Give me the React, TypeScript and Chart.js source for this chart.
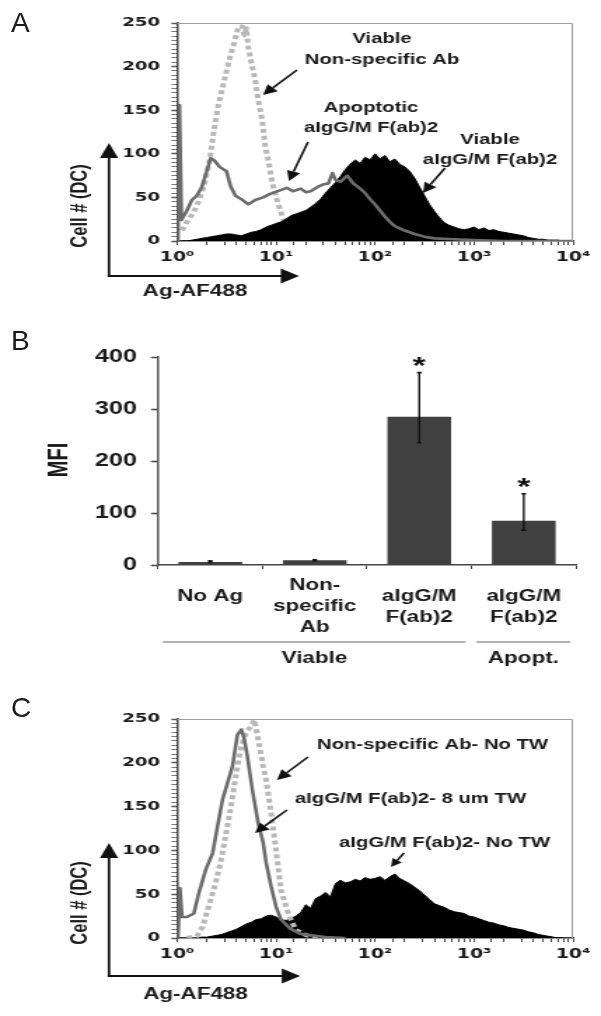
import React, { useEffect, useRef } from "react";
import { Chart, registerables } from "chart.js";

Chart.register(...registerables);

// ---------- layout constants (canvas is drawn narrow and shown stretched, like the reference) ----------
const SANS = '"Liberation Sans", Arial, Helvetica, sans-serif';
const WIDE = '"DejaVu Sans", "Liberation Sans", sans-serif';
const INK = "#1a1a1a";
const LOGICAL_W = 429;
const PAGE_W = 601;
const SX = PAGE_W / LOGICAL_W;
const px = (pageX: number) => pageX / SX;

// ---------- shared axis labels ----------
const decadeTickLabels = ["10⁰", "10¹", "10²", "10³", "10⁴"];
const histYLabelled = [0, 50, 100, 150, 200, 250];

// ---------- Panel A data (x in decades of Ag-AF488, y = cell count) ----------
const aViableDecades = [
  0.05, 0.1, 0.15, 0.2, 0.25, 0.3, 0.35, 0.4, 0.45, 0.5,
  0.55, 0.6, 0.65, 0.7, 0.75, 0.8, 0.85, 0.9, 0.95, 1.0,
  1.05, 1.1, 1.15, 1.2, 1.25, 1.3, 1.35, 1.4, 1.45, 1.5,
  1.55, 1.6, 1.65, 1.7, 1.75, 1.8, 1.85, 1.9, 1.95, 2.0,
  2.05, 2.1, 2.15, 2.2, 2.25, 2.3, 2.35, 2.4, 2.45, 2.5,
  2.55, 2.6, 2.65, 2.7, 2.75, 2.8, 2.85, 2.9, 2.95, 3.0,
  3.05, 3.1, 3.15, 3.2, 3.25, 3.3, 3.35, 3.4, 3.45, 3.5,
  3.55, 3.6, 3.65, 3.7, 3.75, 3.8, 3.85, 3.9, 3.95, 4.0,
];
const aViableCounts = [
  0, 0, 1, 2, 3, 4, 5, 6, 7, 8,
  8, 7, 6, 8, 10, 11, 13, 16, 18, 20,
  22, 25, 29, 31, 33, 35, 39, 43, 48, 55,
  61, 67, 74, 82, 88, 93, 89, 96, 93, 100,
  94, 98, 91, 94, 88, 85, 80, 72, 62, 52,
  42, 34, 27, 21, 18, 16, 14, 13, 14, 16,
  13, 15, 12, 13, 11, 10, 9, 8, 7, 6,
  4, 3, 2, 2, 1, 1, 1, 0, 0, 0,
];
const aApoptDecades = [
  0.01, 0.025, 0.045, 0.1, 0.15, 0.2, 0.25, 0.3, 0.34, 0.38, 0.43, 0.5, 0.54, 0.59, 0.65, 0.72, 0.79,
  0.87, 0.94, 1.04, 1.11, 1.17, 1.25, 1.3, 1.35, 1.42, 1.48, 1.53, 1.57, 1.6, 1.65, 1.72, 1.78, 1.85,
  1.9, 1.95, 2.0, 2.05, 2.1, 2.15, 2.2, 2.3, 2.4, 2.5, 2.6, 2.8, 3.0, 3.3, 4.0,
];
const aApoptCounts = [
  0, 156, 24, 35, 47, 52, 62, 80, 95, 92, 85, 80, 63, 52, 48, 42, 47,
  50, 54, 58, 61, 57, 60, 56, 57, 62, 65, 66, 78, 70, 68, 75, 66, 60,
  55, 48, 42, 35, 28, 22, 17, 12, 8, 5, 3, 2, 1, 0, 0,
];
const aNonSpecDecades = [
  0.05, 0.1, 0.15, 0.2, 0.27, 0.33, 0.37, 0.41, 0.47, 0.54, 0.58, 0.62, 0.66, 0.68, 0.7,
  0.72, 0.75, 0.79, 0.82, 0.86, 0.89, 0.93, 0.96, 1.01, 1.07, 1.12, 1.18, 1.25, 1.35,
];
const aNonSpecCounts = [
  12, 22, 30, 40, 62, 93, 125, 152, 181, 213, 228, 246, 246, 236, 244,
  222, 205, 185, 162, 139, 110, 88, 68, 47, 26, 15, 8, 3, 0,
];

// ---------- Panel B data ----------
const bCategories = [["No Ag", ""], ["Non-", "specific", "Ab"], ["aIgG/M", "F(ab)2"], ["aIgG/M", "F(ab)2"]];
const bMFI = [6, 9, 285, 85];
const bErrLow = [5, 8, 235, 67];
const bErrHigh = [8, 10, 370, 137];
const bSignif = ["", "", "*", "*"];
const bGroupLabels = ["Viable", "Apopt."];
const bGroupFirst = [0, 3];
const bGroupLast = [2, 3];
const bYTicks = [0, 100, 200, 300, 400];

// ---------- Panel C data ----------
const cNoTwDecades = [
  0.2, 0.25, 0.3, 0.35, 0.4, 0.45, 0.5, 0.55, 0.6, 0.65,
  0.7, 0.75, 0.8, 0.85, 0.9, 0.95, 1.0, 1.05, 1.1, 1.15,
  1.2, 1.25, 1.3, 1.35, 1.4, 1.45, 1.5, 1.55, 1.6, 1.65,
  1.7, 1.75, 1.8, 1.85, 1.9, 1.95, 2.0, 2.05, 2.1, 2.15,
  2.2, 2.25, 2.3, 2.35, 2.4, 2.45, 2.5, 2.55, 2.6, 2.65,
  2.7, 2.75, 2.8, 2.85, 2.9, 2.95, 3.0, 3.05, 3.1, 3.15,
  3.2, 3.25, 3.3, 3.35, 3.4, 3.45, 3.5, 3.55, 3.6, 3.65,
  3.7, 3.75, 3.8, 3.85, 3.9,
];
const cNoTwCounts = [
  0, 1, 1, 2, 3, 4, 6, 8, 10, 13,
  16, 18, 21, 22, 25, 26, 24, 21, 20, 22,
  25, 29, 38, 34, 45, 48, 52, 47, 62, 66,
  63, 64, 67, 65, 69, 67, 68, 70, 66, 70,
  73, 68, 65, 62, 58, 54, 49, 44, 39, 37,
  35, 32, 30, 29, 28, 25, 24, 22, 20, 18,
  17, 15, 14, 12, 11, 10, 9, 7, 6, 4,
  3, 2, 1, 0, 0,
];
const cTw8Decades = [
  0.01, 0.03, 0.05, 0.1, 0.17, 0.22, 0.29, 0.36, 0.41, 0.46, 0.51, 0.56, 0.61, 0.65,
  0.68, 0.71, 0.76, 0.82, 0.87, 0.9, 0.95, 1.0, 1.05, 1.14, 1.24, 1.35, 1.5, 1.7,
];
const cTw8Counts = [
  0, 57, 24, 24, 28, 51, 78, 97, 128, 158, 177, 196, 232, 238,
  227, 208, 170, 131, 109, 86, 59, 36, 21, 11, 5, 3, 1, 0,
];
const cNonSpecDecades = [
  0.1, 0.2, 0.26, 0.32, 0.39, 0.44, 0.49, 0.54, 0.6, 0.65, 0.7, 0.75,
  0.78, 0.82, 0.87, 0.9, 0.95, 1.0, 1.05, 1.1, 1.15, 1.2, 1.31, 1.45,
];
const cNonSpecCounts = [
  0, 2, 13, 36, 63, 86, 116, 147, 189, 219, 235, 242,
  249, 227, 196, 181, 143, 101, 55, 36, 21, 9, 3, 0,
];

// ---------- drawing helpers ----------
function tri(ctx: CanvasRenderingContext2D, p: number[][]) {
  ctx.beginPath();
  ctx.moveTo(p[0][0], p[0][1]);
  ctx.lineTo(p[1][0], p[1][1]);
  ctx.lineTo(p[2][0], p[2][1]);
  ctx.closePath();
  ctx.fill();
}

function arrow(ctx: CanvasRenderingContext2D, x1: number, y1: number, x2: number, y2: number, head = 10) {
  const ang = Math.atan2(y2 - y1, x2 - x1);
  const w = head * 0.5;
  const bx = x2 - head * Math.cos(ang);
  const by = y2 - head * Math.sin(ang);
  ctx.lineWidth = 1.6;
  ctx.beginPath();
  ctx.moveTo(x1, y1);
  ctx.lineTo(bx, by);
  ctx.stroke();
  tri(ctx, [
    [x2, y2],
    [bx + w * Math.sin(ang), by - w * Math.cos(ang)],
    [bx - w * Math.sin(ang), by + w * Math.cos(ang)],
  ]);
}

const histDecoPlugin = {
  id: "histDeco",
  afterDraw(chart: any, _args: any, o: any) {
    const ctx: CanvasRenderingContext2D = chart.ctx;
    const a = chart.chartArea;
    ctx.save();
    // light frame on top and right
    ctx.strokeStyle = "#9c9c9c";
    ctx.lineWidth = 1;
    ctx.beginPath();
    ctx.moveTo(a.left, a.top + 0.5);
    ctx.lineTo(a.right - 0.5, a.top + 0.5);
    ctx.lineTo(a.right - 0.5, a.bottom);
    ctx.stroke();
    // corner arrows
    const ax = o.axisArrow;
    ctx.strokeStyle = "#111";
    ctx.fillStyle = "#111";
    ctx.lineWidth = 1.8;
    ctx.beginPath();
    ctx.moveTo(ax.x, ax.y + 0.9);
    ctx.lineTo(ax.x, ax.top + 13);
    ctx.stroke();
    tri(ctx, [[ax.x, ax.top], [ax.x - 6.5, ax.top + 15], [ax.x + 6.5, ax.top + 15]]);
    ctx.lineWidth = 2;
    ctx.beginPath();
    ctx.moveTo(ax.x - 0.9, ax.y);
    ctx.lineTo(ax.right - 11, ax.y);
    ctx.stroke();
    tri(ctx, [[ax.right, ax.y], [ax.right - 13, ax.y - 7.5], [ax.right - 13, ax.y + 7.5]]);
    // axis titles
    ctx.fillStyle = INK;
    ctx.textAlign = "center";
    ctx.textBaseline = "middle";
    ctx.font = `bold 16px ${SANS}`;
    ctx.fillText(o.xTitle.text, o.xTitle.x, o.xTitle.y);
    ctx.save();
    ctx.translate(o.yTitle.x, o.yTitle.y);
    ctx.rotate(-Math.PI / 2);
    ctx.font = `bold 16.5px ${SANS}`;
    ctx.fillText(o.yTitle.text, 0, 0);
    ctx.restore();
    // annotations
    ctx.font = `bold 14.5px ${SANS}`;
    for (const n of o.notes) n.lines.forEach((t: string, i: number) => ctx.fillText(t, n.x, n.ys[i]));
    ctx.fillStyle = "#111";
    ctx.strokeStyle = "#111";
    for (const ar of o.arrows) arrow(ctx, ar[0], ar[1], ar[2], ar[3], ar[4] ?? 10);
    ctx.restore();
  },
};

type Series = { label: string; decades: number[]; counts: number[]; kind: "solid" | "dashed" | "filled" };

function HistPanel(props: {
  top: number; height: number; chartTop: number; chartBottom: number; series: Series[]; deco: any;
}) {
  const ref = useRef<HTMLCanvasElement>(null);
  const { top, height, chartTop, chartBottom, series, deco } = props;
  useEffect(() => {
    const datasets = series.map((s) => {
      const data = s.decades.map((d, i) => ({ x: Math.pow(10, d), y: s.counts[i] }));
      if (s.kind === "filled")
        return { label: s.label, data, borderColor: "#000", backgroundColor: "#000", borderWidth: 1, fill: "origin" };
      if (s.kind === "dashed")
        return { label: s.label, data, borderColor: "#b8b8b8", borderWidth: 4, borderDash: [4, 3], fill: false };
      return { label: s.label, data, borderColor: "#6c6c6c", borderWidth: 2.6, fill: false };
    });
    const chart = new Chart(ref.current as HTMLCanvasElement, {
      type: "line",
      data: { datasets } as any,
      options: {
        responsive: false,
        animation: false,
        devicePixelRatio: 1,
        layout: { padding: { left: 0, right: 20, top: chartTop, bottom: 0 } },
        elements: { point: { radius: 0 }, line: { tension: 0, borderJoinStyle: "round" } },
        plugins: { legend: { display: false }, tooltip: { enabled: false }, histDeco: deco } as any,
        scales: {
          x: {
            type: "logarithmic",
            min: 1,
            max: 10000,
            afterFit: (s: any) => { s.height = height - chartBottom; },
            grid: { display: true, drawOnChartArea: false, drawTicks: true, tickLength: 4, tickColor: "#444", tickWidth: 1 },
            border: { display: true, color: "#333", width: 1.6 },
            ticks: {
              autoSkip: false, maxRotation: 0, minRotation: 0, padding: 4, color: INK,
              font: { family: WIDE, size: 13.5, weight: "bold" },
              callback: (v: any) => {
                const l = Math.log10(Number(v));
                const r = Math.round(l);
                return Math.abs(l - r) < 1e-6 ? decadeTickLabels[r] ?? "" : "";
              },
            },
          },
          y: {
            min: 0,
            max: 250,
            afterFit: (s: any) => { s.width = px(177); },
            grid: {
              display: true, drawOnChartArea: false, drawTicks: true, tickLength: 4, tickColor: "#555",
              tickWidth: (c: any) => (histYLabelled.includes(c.tick?.value) ? 1.5 : 0.8),
            },
            border: { display: true, color: "#444", width: 1.5 },
            ticks: {
              stepSize: 5, autoSkip: false, padding: 8, color: INK,
              font: { family: WIDE, size: 13, weight: "bold" },
              callback: (v: any) => (histYLabelled.includes(Number(v)) ? String(v) : ""),
            },
          },
        },
      } as any,
      plugins: [histDecoPlugin as any],
    });
    return () => chart.destroy();
  }, []);
  return (
    <canvas
      ref={ref}
      width={LOGICAL_W}
      height={height}
      style={{ position: "absolute", left: 0, top, width: `${PAGE_W}px`, height: `${height}px` }}
    />
  );
}

const barDecoPlugin = {
  id: "barDeco",
  afterDatasetsDraw(chart: any, _a: any, o: any) {
    const ctx: CanvasRenderingContext2D = chart.ctx;
    const meta = chart.getDatasetMeta(0);
    const ys = chart.scales.y;
    ctx.save();
    ctx.strokeStyle = "#111";
    ctx.fillStyle = "#111";
    meta.data.forEach((bar: any, i: number) => {
      const x = bar.x;
      const yl = ys.getPixelForValue(o.low[i]);
      const yh = ys.getPixelForValue(o.high[i]);
      ctx.lineWidth = 1.4;
      ctx.beginPath();
      ctx.moveTo(x, yl);
      ctx.lineTo(x, yh);
      ctx.stroke();
      ctx.lineWidth = 1.6;
      ctx.beginPath();
      ctx.moveTo(x - 1.6, yl);
      ctx.lineTo(x + 1.6, yl);
      ctx.moveTo(x - 1.6, yh);
      ctx.lineTo(x + 1.6, yh);
      ctx.stroke();
      if (o.marks[i]) {
        ctx.font = `bold 24px ${SANS}`;
        ctx.textAlign = "center";
        ctx.textBaseline = "alphabetic";
        ctx.fillText(o.marks[i], x, yh + 1);
      }
    });
    ctx.restore();
  },
  afterDraw(chart: any, _a: any, o: any) {
    const ctx: CanvasRenderingContext2D = chart.ctx;
    const xs = chart.scales.x;
    const half = (xs.right - xs.left) / bCategories.length / 2;
    ctx.save();
    ctx.strokeStyle = "#9a9a9a";
    ctx.lineWidth = 1.5;
    ctx.fillStyle = INK;
    ctx.textAlign = "center";
    ctx.textBaseline = "middle";
    ctx.font = `bold 16px ${SANS}`;
    o.labels.forEach((lab: string, g: number) => {
      const x1 = xs.getPixelForValue(o.first[g]) - half + 3.5;
      const x2 = xs.getPixelForValue(o.last[g]) + half - 4;
      ctx.beginPath();
      ctx.moveTo(x1, o.lineY);
      ctx.lineTo(x2, o.lineY);
      ctx.stroke();
      ctx.fillText(lab, (x1 + x2) / 2, o.textY);
    });
    ctx.save();
    ctx.translate(o.title.x, o.title.y);
    ctx.rotate(-Math.PI / 2);
    ctx.font = `bold 20px ${SANS}`;
    ctx.fillText(o.title.text, 0, 0);
    ctx.restore();
    ctx.restore();
  },
};

function BarPanel(props: { top: number; height: number }) {
  const ref = useRef<HTMLCanvasElement>(null);
  const { top, height } = props;
  const chartTop = 357 - top;
  const chartBottom = 565 - top;
  useEffect(() => {
    const chart = new Chart(ref.current as HTMLCanvasElement, {
      type: "bar",
      data: {
        labels: bCategories,
        datasets: [
          { label: "MFI", data: bMFI, backgroundColor: "#404040", borderWidth: 0, barPercentage: 0.61, categoryPercentage: 1 },
        ],
      } as any,
      options: {
        responsive: false,
        animation: false,
        devicePixelRatio: 1,
        layout: { padding: { left: 0, right: LOGICAL_W - px(576), top: chartTop, bottom: 0 } },
        plugins: {
          legend: { display: false },
          tooltip: { enabled: false },
          barDeco: {
            low: bErrLow, high: bErrHigh, marks: bSignif,
            labels: bGroupLabels, first: bGroupFirst, last: bGroupLast,
            lineY: 642 - top, textY: 659 - top,
            title: { text: "MFI", x: px(60), y: 460 - top },
          },
        } as any,
        scales: {
          x: {
            afterFit: (s: any) => { s.height = height - chartBottom; },
            grid: { display: true, drawOnChartArea: false, drawTicks: true, tickLength: 4, tickColor: "#444", offset: true },
            border: { display: true, color: "#444", width: 1.6 },
            ticks: {
              autoSkip: false, maxRotation: 0, minRotation: 0, crossAlign: "center", padding: 17, color: INK,
              font: { family: SANS, size: 16, weight: "bold", lineHeight: 1.3 },
            },
          },
          y: {
            min: 0,
            max: 400,
            afterFit: (s: any) => { s.width = px(158); },
            afterBuildTicks: (s: any) => { s.ticks = bYTicks.map((v) => ({ value: v })); },
            grid: { display: true, drawOnChartArea: false, drawTicks: true, tickLength: 5, tickColor: "#444", tickWidth: 1.5 },
            border: { display: true, color: "#555", width: 1.5 },
            ticks: { padding: 10, color: INK, font: { family: SANS, size: 18, weight: "bold" } },
          },
        },
      } as any,
      plugins: [barDecoPlugin as any],
    });
    return () => chart.destroy();
  }, []);
  return (
    <canvas
      ref={ref}
      width={LOGICAL_W}
      height={height}
      style={{ position: "absolute", left: 0, top, width: `${PAGE_W}px`, height: `${height}px` }}
    />
  );
}

const aSeries: Series[] = [
  { label: "Apoptotic aIgG/M F(ab)2", decades: aApoptDecades, counts: aApoptCounts, kind: "solid" },
  { label: "Viable aIgG/M F(ab)2", decades: aViableDecades, counts: aViableCounts, kind: "filled" },
  { label: "Viable Non-specific Ab", decades: aNonSpecDecades, counts: aNonSpecCounts, kind: "dashed" },
];
const cSeries: Series[] = [
  { label: "aIgG/M F(ab)2- 8 um TW", decades: cTw8Decades, counts: cTw8Counts, kind: "solid" },
  { label: "Non-specific Ab- No TW", decades: cNonSpecDecades, counts: cNonSpecCounts, kind: "dashed" },
  { label: "aIgG/M F(ab)2- No TW", decades: cNoTwDecades, counts: cNoTwCounts, kind: "filled" },
];

const aDeco = {
  axisArrow: { x: px(109), y: 276, top: 143, right: px(299) },
  yTitle: { text: "Cell # (DC)", x: px(81), y: 206 },
  xTitle: { text: "Ag-AF488", x: px(195), y: 292 },
  notes: [
    { x: px(382), ys: [38.5, 60], lines: ["Viable", "Non-specific Ab"] },
    { x: px(371), ys: [108, 127.5], lines: ["Apoptotic", "aIgG/M F(ab)2"] },
    { x: px(490), ys: [140, 160], lines: ["Viable", "aIgG/M F(ab)2"] },
  ],
  arrows: [
    [px(297), 70, px(263), 95],
    [px(308), 142, px(289), 181],
    [px(445), 168, px(423), 193],
  ],
};

const cTop = 700;
const cDeco = {
  axisArrow: { x: px(109), y: 976 - cTop, top: 843 - cTop, right: px(300) },
  yTitle: { text: "Cell # (DC)", x: px(81), y: 903 - cTop },
  xTitle: { text: "Ag-AF488", x: px(195.5), y: 995 - cTop },
  notes: [
    { x: px(432.5), ys: [745 - cTop], lines: ["Non-specific Ab- No TW"] },
    { x: px(410.5), ys: [799 - cTop], lines: ["aIgG/M F(ab)2- 8 um TW"] },
    { x: px(444.5), ys: [843 - cTop], lines: ["aIgG/M F(ab)2- No TW"] },
  ],
  arrows: [
    [px(308), 757 - cTop, px(277), 780 - cTop],
    [px(287), 810 - cTop, px(255), 833 - cTop],
    [px(404), 853 - cTop, px(391), 867 - cTop, 8],
  ],
};

const letterStyle = (top: number): React.CSSProperties => ({
  position: "absolute",
  left: 11,
  top,
  font: `28px ${SANS}`,
  lineHeight: "28px",
  color: INK,
});

export default function App() {
  return (
    <div
      style={{
        position: "absolute", left: 0, top: 0, width: PAGE_W, height: 1016,
        overflow: "hidden", background: "#fff",
      }}
    >
      <HistPanel top={0} height={302} chartTop={23} chartBottom={241} series={aSeries} deco={aDeco} />
      <BarPanel top={302} height={398} />
      <HistPanel top={cTop} height={316} chartTop={19} chartBottom={238} series={cSeries} deco={cDeco} />
      <div style={letterStyle(9)}>A</div>
      <div style={letterStyle(327)}>B</div>
      <div style={letterStyle(694)}>C</div>
    </div>
  );
}
